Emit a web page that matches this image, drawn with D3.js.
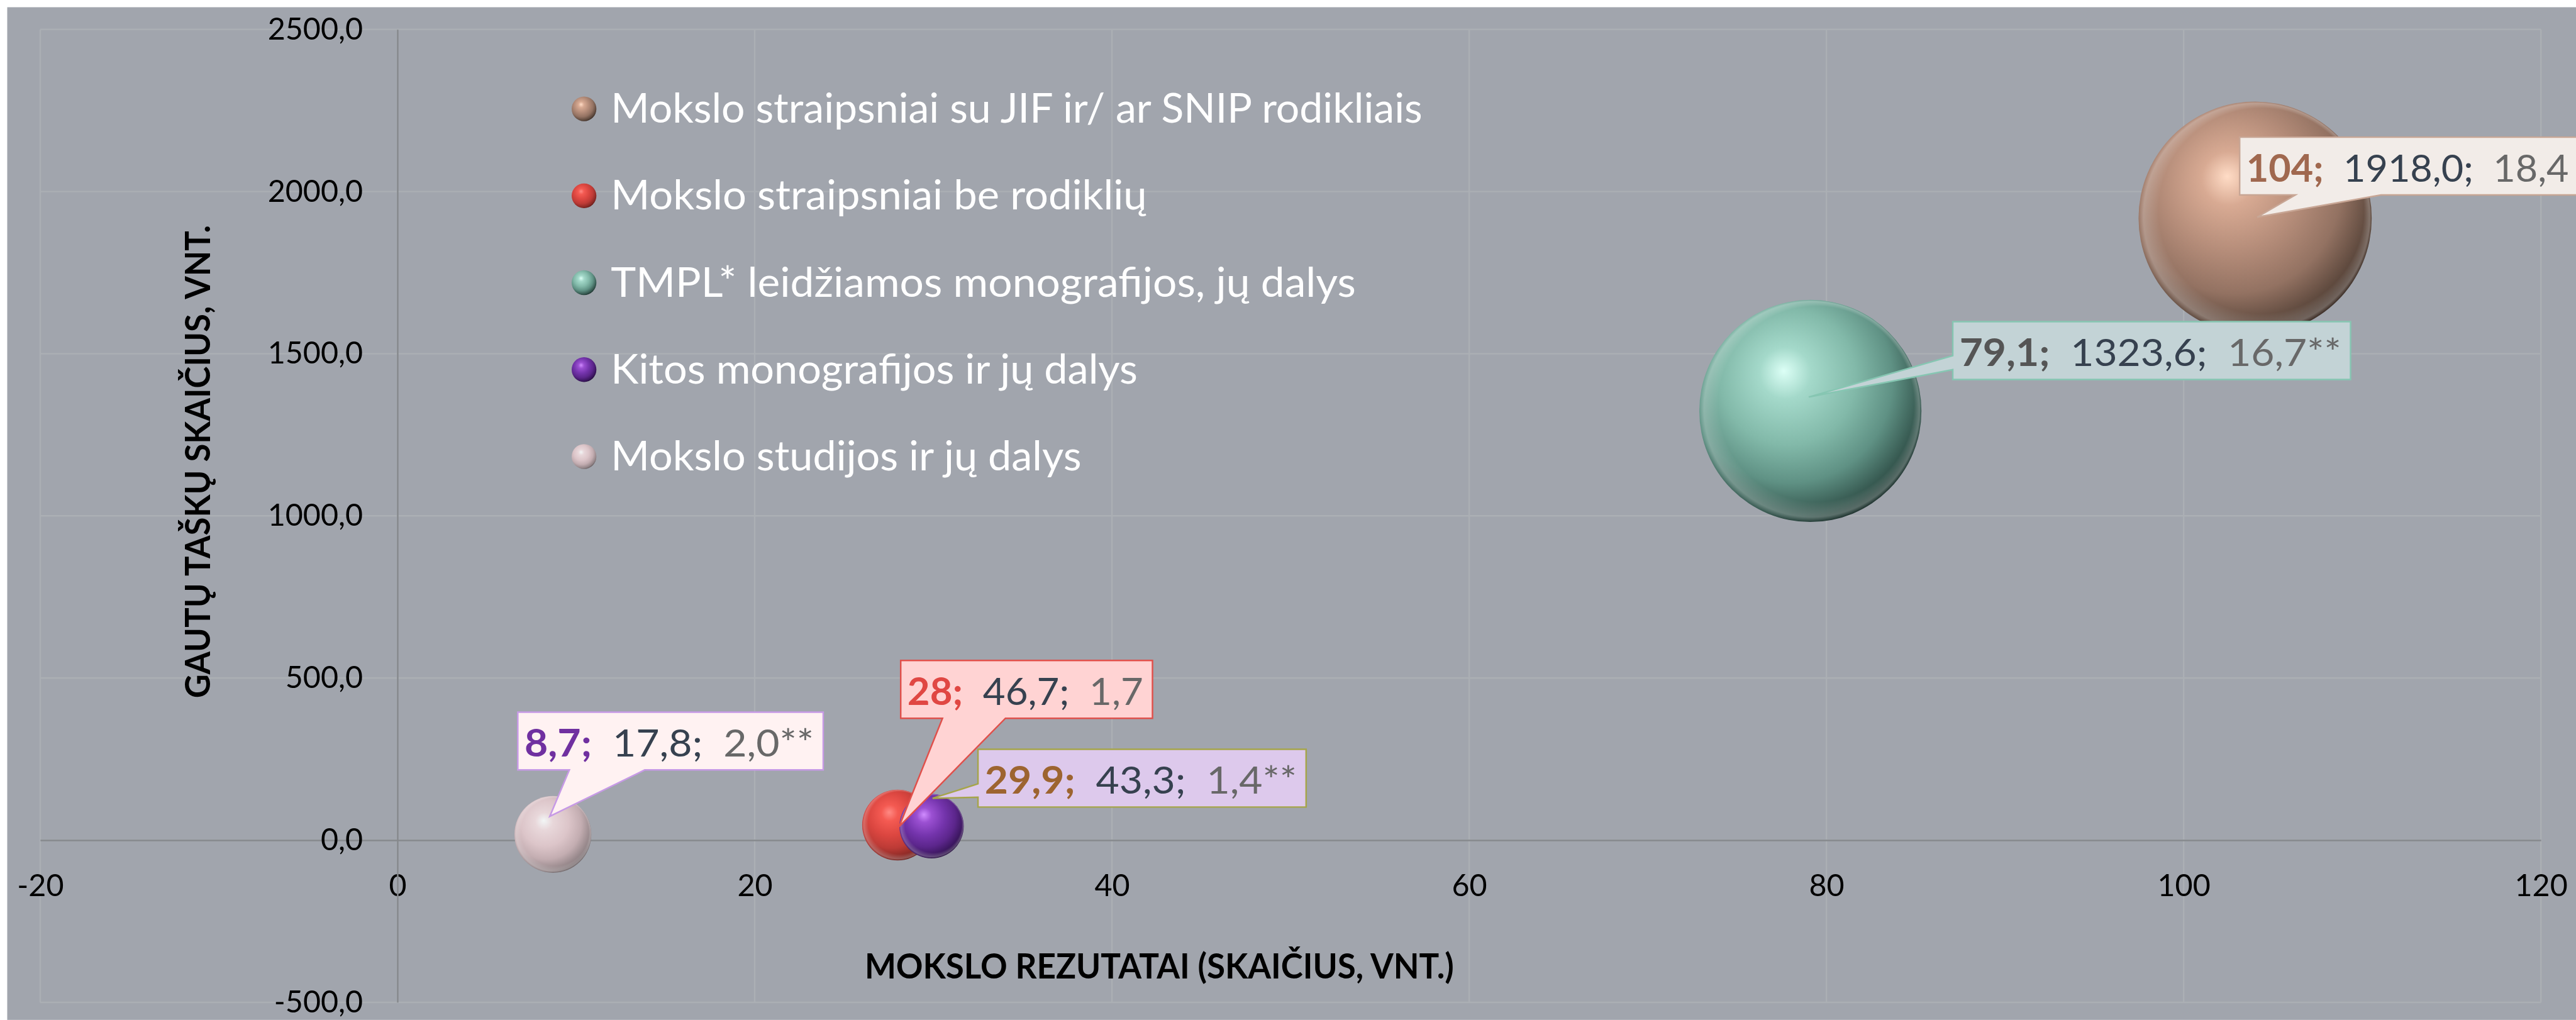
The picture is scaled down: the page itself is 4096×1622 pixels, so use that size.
<!DOCTYPE html>
<html>
<head>
<meta charset="utf-8">
<script src="https://cdn.jsdelivr.net/npm/d3@7"></script>
<style>
  html, body { margin: 0; padding: 0; background: #ffffff; overflow: hidden; }
  svg { display: block; }
  text { font-family: Lato, "Open Sans", sans-serif; }
</style>
</head>
<body>
<script>
// ! Data
const seriesNames = [
  "Mokslo straipsniai su JIF ir/ ar SNIP rodikliais",
  "Mokslo straipsniai be rodiklių",
  "TMPL* leidžiamos monografijos, jų dalys",
  "Kitos monografijos ir jų dalys",
  "Mokslo studijos ir jų dalys"
];
const resultsCount = [104, 28, 79.1, 29.9, 8.7];
const pointsTotal = [1918.0, 46.7, 1323.6, 43.3, 17.8];
const bubbleSize = [18.4, 1.7, 16.7, 1.4, 2.0];
const sizeNote = ["", "", "**", "**", "**"];
const xTicks = [-20, 0, 20, 40, 60, 80, 100, 120];
const yTicks = [-500, 0, 500, 1000, 1500, 2000, 2500];
const xTitle = "MOKSLO REZUTATAI (SKAIČIUS, VNT.)";
const yTitle = "GAUTŲ TAŠKŲ SKAIČIUS, VNT.";

// ! Styles
// sphere shading: highlight, light, body, mid, shade, edge
const sphereStops = [
  ["#ffdcc6", "#d8aa93", "#b38b78", "#937262", "#5a463b", "#231813"],
  ["#ff8a84", "#f45a52", "#db4640", "#bd3b36", "#862824", "#4a1210"],
  ["#dcfff6", "#a4d9ca", "#82b9a9", "#5f9184", "#33544c", "#0c1816"],
  ["#d08cff", "#9b50d2", "#7434ac", "#5c268c", "#38155a", "#160628"],
  ["#f2f6f6", "#e8d7da", "#dcc5c9", "#c3adb1", "#918386", "#4a4244"]
];
const stopOffsets = [0, 0.17, 0.45, 0.68, 0.88, 1];
const labelFill = ["#f2ece8", "#ffd3d3", "#c3d3d6", "#ddc9ec", "#fff2f2"];
const labelStroke = ["#c8a695", "#e0504b", "#86c6b2", "#a6a54a", "#c79ae6"];
const labelAccent = ["#a0684f", "#e04743", "#555555", "#9d6430", "#7030a0"];
const midColor = "#36414f";
const lastColor = "#686868";

// callout boxes, offsets from the bubble centre (reference pixels)
const calloutLayout = [
  { side: "bottom", dx: -30, dy: -157, t1: 78, t2: 244, tipX: 4, tipY: -2, w: 625 },
  { side: "bottom", dx: 6, dy: -319, t1: 87, t2: 209, tipX: 3, tipY: 3, w: 457 },
  { side: "left", dx: 276, dy: -173, t1: -107, t2: -80, tipX: -3, tipY: -27, w: 740 },
  { side: "left", dx: 90, dy: -149, t1: -82, t2: -56, tipX: 2, tipY: -54, w: 605 },
  { side: "bottom", dx: -68, dy: -237, t1: 32, t2: 178, tipX: -6, tipY: -35, w: 561 }
];
const legendWidths = [1573, 1039, 1444, 1021, 912];

// ! Reference size, drawn at 0.82 through the viewBox
const width = 4993;
const height = 1977;
const margin = { top: 57, right: 68, bottom: 34, left: 78 };

const svg = d3
  .select("body")
  .append("svg")
  .attr("width", 4096)
  .attr("height", 1622)
  .attr("viewBox", `0 0 ${width} ${height}`)
  .attr("preserveAspectRatio", "xMinYMin meet");

svg
  .append("rect")
  .attr("x", 14)
  .attr("y", 14)
  .attr("width", width - 14)
  .attr("height", height - 14)
  .attr("fill", "#a1a5ad");

// ! Sphere gradients
const defs = svg.append("defs");
sphereStops.forEach((stops, i) => {
  const g = defs
    .append("radialGradient")
    .attr("id", "sphere-" + i)
    .attr("cx", "42%")
    .attr("cy", "38%")
    .attr("r", "68%")
    .attr("fx", "38%")
    .attr("fy", "32%");
  stopOffsets.forEach((o, k) => {
    g.append("stop").attr("offset", o).attr("stop-color", stops[k]);
  });
});
// light reflection along the lower left rim
const rim = defs
  .append("radialGradient")
  .attr("id", "rim")
  .attr("cx", "50%")
  .attr("cy", "50%")
  .attr("r", "50%")
  .attr("fx", "72%")
  .attr("fy", "24%");
rim.append("stop").attr("offset", 0).attr("stop-color", "#ffffff").attr("stop-opacity", 0);
rim.append("stop").attr("offset", 0.88).attr("stop-color", "#ffffff").attr("stop-opacity", 0);
rim.append("stop").attr("offset", 0.97).attr("stop-color", "#ffffff").attr("stop-opacity", 0.24);
rim.append("stop").attr("offset", 1).attr("stop-color", "#ffffff").attr("stop-opacity", 0);

// ! Scales
const xScale = d3
  .scaleLinear()
  .domain([-20, 120])
  .range([margin.left, width - margin.right]);
const yScale = d3
  .scaleLinear()
  .domain([-500, 2500])
  .range([height - margin.bottom, margin.top]);
const rScale = d3.scaleSqrt().domain([0, d3.max(bubbleSize)]).range([0, 226]);

const lt = d3.formatLocale({
  decimal: ",",
  thousands: "",
  grouping: [3],
  currency: ["", ""],
  minus: "-"
});
const fmtY = lt.format(".1f");
const fmtX = lt.format("d");
const fmtCount = lt.format(".1~f");

// ! Gridlines
const grid = svg.append("g").attr("stroke", "#abafb4").attr("stroke-width", 3);
grid
  .selectAll("line.v")
  .data(xTicks)
  .join("line")
  .attr("class", "v")
  .attr("x1", (d) => xScale(d))
  .attr("x2", (d) => xScale(d))
  .attr("y1", yScale(2500))
  .attr("y2", yScale(-500));
grid
  .selectAll("line.h")
  .data(yTicks)
  .join("line")
  .attr("class", "h")
  .attr("x1", xScale(-20))
  .attr("x2", xScale(120))
  .attr("y1", (d) => yScale(d))
  .attr("y2", (d) => yScale(d));

// ! Axes crossing at zero
const xAxisG = svg
  .append("g")
  .attr("transform", `translate(0, ${yScale(0)})`)
  .call(
    d3.axisBottom(xScale).tickValues(xTicks).tickFormat(fmtX).tickSize(0).tickPadding(67)
  );
const yAxisG = svg
  .append("g")
  .attr("transform", `translate(${xScale(0)}, 0)`)
  .call(
    d3.axisLeft(yScale).tickValues(yTicks).tickFormat(fmtY).tickSize(0).tickPadding(67)
  );
[xAxisG, yAxisG].forEach((g) => {
  g.attr("font-family", "Lato, sans-serif").attr("font-size", 59).style("color", "#000");
  g.select(".domain").attr("stroke", "#86898d").attr("stroke-width", 3);
});

// ! Bubbles
const bubbles = svg
  .append("g")
  .selectAll("g")
  .data(d3.range(seriesNames.length))
  .join("g");
bubbles
  .append("circle")
  .attr("cx", (i) => xScale(resultsCount[i]))
  .attr("cy", (i) => yScale(pointsTotal[i]))
  .attr("r", (i) => rScale(bubbleSize[i]))
  .attr("fill", (i) => `url(#sphere-${i})`);
bubbles
  .append("circle")
  .attr("cx", (i) => xScale(resultsCount[i]))
  .attr("cy", (i) => yScale(pointsTotal[i]))
  .attr("r", (i) => rScale(bubbleSize[i]))
  .attr("fill", "url(#rim)");

// ! Legend
const legend = svg.append("g");
const legendItems = legend
  .selectAll("g")
  .data(seriesNames)
  .join("g")
  .attr("transform", (d, i) => `translate(1132, ${211 + i * 168.5})`);
legendItems
  .append("circle")
  .attr("r", 24)
  .attr("fill", (d, i) => `url(#sphere-${i})`);
legendItems
  .append("text")
  .attr("x", 52)
  .attr("y", 27)
  .attr("fill", "#ffffff")
  .attr("font-size", 80)
  .attr("textLength", (d, i) => legendWidths[i])
  .attr("lengthAdjust", "spacingAndGlyphs")
  .text((d) => d);

// ! Data label callouts
const callouts = svg
  .append("g")
  .selectAll("g")
  .data(d3.range(seriesNames.length))
  .join("g");
callouts.each(function (i) {
  const g = d3.select(this);
  const L = calloutLayout[i];
  const cx = xScale(resultsCount[i]);
  const cy = yScale(pointsTotal[i]);
  const left = cx + L.dx;
  const top = cy + L.dy;
  const right = left + L.w + 31;
  const bottom = top + 112;
  const tipX = cx + L.tipX;
  const tipY = cy + L.tipY;
  let p;
  if (L.side === "bottom") {
    p = `M${left},${top}H${right}V${bottom}H${cx + L.t2}L${tipX},${tipY}L${cx + L.t1},${bottom}H${left}Z`;
  } else {
    p = `M${left},${top}H${right}V${bottom}H${left}V${cy + L.t2}L${tipX},${tipY}L${left},${cy + L.t1}Z`;
  }
  g.append("path")
    .attr("d", p)
    .attr("fill", labelFill[i])
    .attr("stroke", labelStroke[i])
    .attr("stroke-width", 3);
  const t = g
    .append("text")
    .attr("x", left + 13)
    .attr("y", top + 86)
    .attr("font-size", 74)
    .attr("textLength", L.w)
    .attr("lengthAdjust", "spacingAndGlyphs")
    .style("white-space", "pre");
  t.append("tspan")
    .attr("font-weight", "bold")
    .attr("fill", labelAccent[i])
    .text(fmtCount(resultsCount[i]) + ";");
  t.append("tspan")
    .attr("fill", midColor)
    .text("  " + fmtY(pointsTotal[i]) + ";");
  t.append("tspan")
    .attr("fill", lastColor)
    .text("  " + fmtY(bubbleSize[i]) + sizeNote[i]);
});

// ! Axis titles
svg
  .append("text")
  .attr("x", 2247)
  .attr("y", 1897)
  .attr("text-anchor", "middle")
  .attr("font-weight", "bold")
  .attr("font-size", 67)
  .attr("textLength", 1142)
  .attr("lengthAdjust", "spacingAndGlyphs")
  .text(xTitle);
svg
  .append("text")
  .attr("transform", "translate(407, 895) rotate(-90)")
  .attr("text-anchor", "middle")
  .attr("font-weight", "bold")
  .attr("font-size", 67)
  .attr("textLength", 917)
  .attr("lengthAdjust", "spacingAndGlyphs")
  .text(yTitle);
</script>
</body>
</html>
